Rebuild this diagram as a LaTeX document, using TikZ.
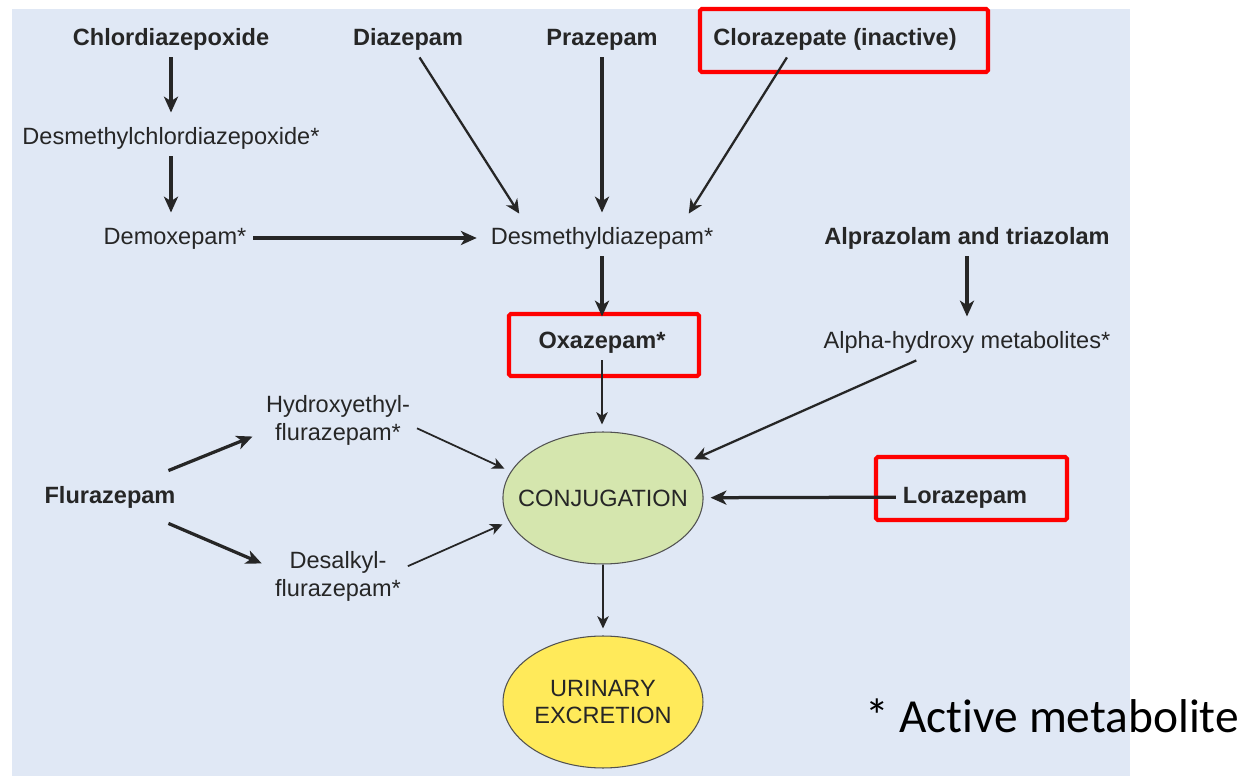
\documentclass[tikz,border=0pt]{standalone}
\usepackage{fontspec}
\setmainfont{Liberation Sans}
\newfontfamily\legendfont[Ligatures=NoCommon]{Carlito}
\usetikzlibrary{arrows.meta,calc,shapes.geometric}

\definecolor{bgblue}{HTML}{E0E8F5}
\definecolor{conjgreen}{HTML}{D5E6AE}
\definecolor{urinyellow}{HTML}{FFEA5A}
\definecolor{ink}{HTML}{262626}

\begin{document}
\begin{tikzpicture}[x=0.02cm, y=-0.02cm,
  >={Stealth[length=9pt,width=8pt,inset=2.5pt]},
  drug/.style={font=\fontsize{13.4}{16}\selectfont\bfseries, text=ink, inner sep=0pt, outer sep=4pt, text height=10pt, text depth=3pt},
  metab/.style={drug, font=\fontsize{13.4}{16}\selectfont},
  metabtwo/.style={font=\fontsize{13.4}{15.9}\selectfont, text=ink, align=center, inner sep=0pt, outer sep=4pt},
  pool/.style={ellipse, draw=ink!80, line width=0.6pt, minimum width=4cm, minimum height=2.64cm, inner ysep=0pt, inner xsep=-8pt, align=center, font=\fontsize{13.4}{15.9}\selectfont, text=ink},
  hilite/.style={draw=red, line width=2.3pt, rounded corners=1pt},
  thk/.style={->, draw=ink, line width=1.85pt, shorten >=4pt},
  mid/.style={thk, line width=1.3pt, >={Stealth[length=8pt,width=7.5pt,inset=2.5pt]}},
  thn/.style={thk, line width=1pt, >={Stealth[length=7pt,width=6.5pt,inset=2pt]}}]
  \useasboundingbox (0,0) rectangle (1251,776);
  \fill[bgblue] (12,9) rectangle (1130,776);

  \node[drug] (chl) at (171,39) {Chlordiazepoxide};
  \node[drug] (dia) at (408,39) {Diazepam};
  \node[drug] (pra) at (602,39) {Prazepam};
  \node[drug] (clo) at (835,39) {Clorazepate (inactive)};
  \node[metab] (dmc) at (171,138) {Desmethylchlordiazepoxide*};
  \node[metab] (dmx) at (175,238) {Demoxepam*};
  \node[metab] (ddz) at (602,238) {Desmethyldiazepam*};
  \node[drug] (alp) at (967,238) {Alprazolam and triazolam};
  \node[drug] (oxa) at (602,342) {Oxazepam*};
  \node[metab] (aoh) at (967,342) {Alpha-hydroxy metabolites*};
  \node[metabtwo] (hyd) at (338,420) {Hydroxyethyl-\\flurazepam*};
  \node[drug] (flu) at (110,497) {Flurazepam};
  \node[metabtwo] (des) at (338,576) {Desalkyl-\\flurazepam*};
  \node[pool, fill=conjgreen] (conj) at (603,498) {CONJUGATION};
  \node[pool, fill=urinyellow] (uri) at (603,702) {URINARY\\EXCRETION};
  \node[drug] (lor) at (965,497) {Lorazepam};
  \node[font=\legendfont\fontsize{27}{32}\selectfont, text=black] (key) at (1052,716) {* Active metabolite};

  \draw[hilite] (700,9) rectangle (988,72);
  \draw[hilite] (509,314) rectangle (699,376);
  \draw[hilite] (876,457) rectangle (1067,520);

  \draw[thk] (chl) -- (dmc);
  \draw[thk] (dmc) -- (dmc |- dmx.north);
  \draw[thk] (dmx) -- (ddz);
  \draw[mid] (dia.-58) -- ($(ddz.north)+(-79,0)$);
  \draw[thk] (pra) -- (ddz);
  \draw[mid] (clo.-159) -- ($(ddz.north)+(83,0)$);
  \draw[thk] (ddz) -- (oxa);
  \draw[thk] (alp) -- (aoh);
  \draw[thn] (oxa) -- (oxa |- conj.north);
  \draw[mid] (aoh.-160) -- (conj.23);
  \draw[thk] (lor) -- (conj);
  \draw[thk] ($(flu.north east)+(-14,-8)$) -- (hyd.190);
  \draw[thk] ($(flu.south east)+(-14,8)$) -- (des.172);
  \draw[thn] (hyd.-6) -- (conj.164);
  \draw[thn] (des.8) -- (conj.-166);
  \draw[thn] (conj) -- (uri);
\end{tikzpicture}
\end{document}
